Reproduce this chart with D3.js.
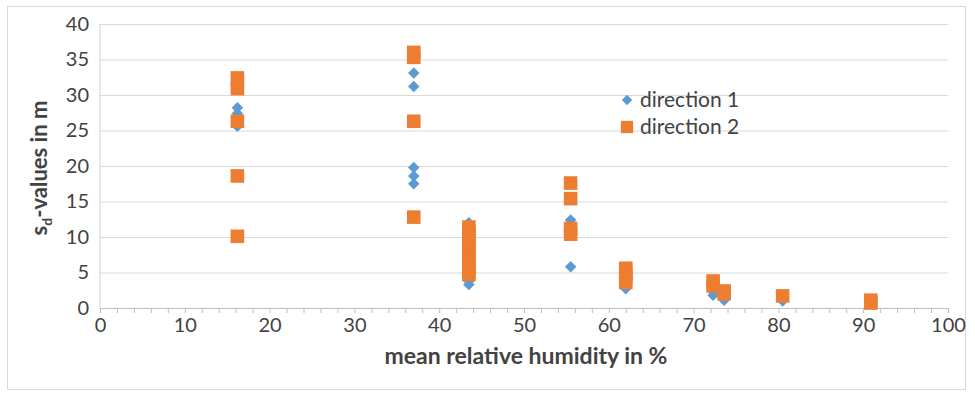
<!DOCTYPE html>
<html>
<head>
<meta charset="utf-8">
<script src="https://cdn.jsdelivr.net/npm/d3@7"></script>
<style>
  html, body { margin: 0; padding: 0; background: #fff; }
  svg { display: block; }
  text { font-family: Lato, "Open Sans", sans-serif; }
</style>
</head>
<body>
<svg id="chart" width="975" height="394"></svg>
<script>
// Mean relative humidity (%) per measurement group, and s_d-values (m)
const dir1X = [16.2, 16.2, 16.2, 16.2,
               37.0, 37.0, 37.0, 37.0, 37.0,
               43.5, 43.5, 43.5, 43.5, 43.5, 43.5, 43.5, 43.5, 43.5,
               55.5, 55.5,
               62.0, 62.0, 62.0,
               72.3, 72.3,
               73.6, 73.6,
               80.5,
               90.9];
const dir1Y = [28.2, 27.4, 26.0, 25.6,
               33.1, 31.2, 19.8, 18.6, 17.5,
               12.0, 11.0, 9.5, 8.0, 6.5, 5.2, 4.4, 3.8, 3.3,
               12.4, 5.8,
               4.5, 3.6, 2.7,
               2.4, 1.8,
               1.6, 1.1,
               1.0,
               0.7];

const dir2X = [16.2, 16.2, 16.2, 16.2, 16.2,
               37.0, 37.0, 37.0, 37.0,
               43.5, 43.5, 43.5, 43.5, 43.5, 43.5, 43.5, 43.5, 43.5, 43.5, 43.5,
               55.5, 55.5, 55.5, 55.5,
               62.0, 62.0, 62.0, 62.0,
               72.3, 72.3,
               73.6, 73.6,
               80.5,
               90.9, 90.9];
const dir2Y = [32.4, 30.9, 26.3, 18.6, 10.1,
               36.0, 35.3, 26.3, 12.8,
               11.4, 10.7, 10.0, 9.3, 8.6, 7.9, 7.2, 6.5, 5.8, 5.2, 4.7,
               17.6, 15.4, 11.2, 10.4,
               5.6, 4.9, 4.2, 3.6,
               3.8, 3.1,
               2.4, 2.0,
               1.7,
               1.1, 0.7];

const xTicks = [0, 10, 20, 30, 40, 50, 60, 70, 80, 90, 100];
const yTicks = [0, 5, 10, 15, 20, 25, 30, 35, 40];
const seriesNames = ["direction 1", "direction 2"];

const svg = d3.select("#chart");
const plot = { left: 100, right: 948, top: 24, bottom: 308 };

const x = d3.scaleLinear().domain([0, 100]).range([plot.left, plot.right]);
const y = d3.scaleLinear().domain([0, 40]).range([plot.bottom, plot.top]);

const blue = "#5B9BD5", orange = "#ED7D31";
const textCol = "#424242", gridCol = "#d9d9d9";

// chart frame
svg.append("rect")
  .attr("x", 7.5).attr("y", 6.5).attr("width", 958).attr("height", 383)
  .attr("fill", "#fff").attr("stroke", "#d9d9d9").attr("stroke-width", 1);

// horizontal gridlines with y tick labels
const yAxis = d3.axisLeft(y).tickValues(yTicks).tickSize(-(plot.right - plot.left)).tickPadding(11);
const gy = svg.append("g").attr("transform", `translate(${plot.left},0)`).call(yAxis);
gy.select(".domain").remove();
gy.selectAll(".tick line").attr("stroke", gridCol).attr("stroke-width", 1.2);
gy.selectAll(".tick text").attr("fill", textCol).style("font-size", "20px");

// x axis with minor ticks every 2 units
const minorTicks = d3.range(0, 101, 2);
const xAxis = d3.axisBottom(x).tickValues(minorTicks).tickSize(5)
  .tickFormat(d => xTicks.includes(d) ? d : "").tickPadding(5);
const gx = svg.append("g").attr("transform", `translate(0,${plot.bottom})`).call(xAxis);
gx.select(".domain").attr("stroke", "#bfbfbf").attr("stroke-width", 1.2);
gx.selectAll(".tick line").attr("stroke", "#bfbfbf");
gx.selectAll(".tick text").attr("fill", textCol).style("font-size", "20px");

// y axis line
svg.append("line")
  .attr("x1", plot.left).attr("x2", plot.left)
  .attr("y1", plot.top).attr("y2", plot.bottom)
  .attr("stroke", gridCol).attr("stroke-width", 1.2);

// direction 1: diamonds
const diamond = d3.symbol().type(d3.symbolDiamond2).size(85);
svg.append("g").selectAll("path")
  .data(d3.zip(dir1X, dir1Y))
  .join("path")
  .attr("d", diamond)
  .attr("transform", d => `translate(${x(d[0])},${y(d[1])})`)
  .attr("fill", blue);

// direction 2: squares
const square = d3.symbol().type(d3.symbolSquare).size(185);
svg.append("g").selectAll("path")
  .data(d3.zip(dir2X, dir2Y))
  .join("path")
  .attr("d", square)
  .attr("transform", d => `translate(${x(d[0])},${y(d[1])})`)
  .attr("fill", orange);

// legend
const legend = svg.append("g").attr("transform", "translate(627,100)");
legend.append("path").attr("d", d3.symbol().type(d3.symbolDiamond2).size(70)).attr("fill", blue);
legend.append("text").attr("x", 13).attr("y", 0).attr("dy", "0.35em")
  .attr("fill", textCol).style("font-size", "21px").text(seriesNames[0]);
legend.append("path").attr("transform", "translate(0,27)")
  .attr("d", d3.symbol().type(d3.symbolSquare).size(150)).attr("fill", orange);
legend.append("text").attr("x", 13).attr("y", 27).attr("dy", "0.35em")
  .attr("fill", textCol).style("font-size", "21px").text(seriesNames[1]);

// axis titles
svg.append("text")
  .attr("x", 526).attr("y", 364)
  .attr("text-anchor", "middle").attr("fill", textCol)
  .style("font-size", "23px").style("font-weight", "bold")
  .text("mean relative humidity in %");

const yt = svg.append("text")
  .attr("transform", "translate(47,168) rotate(-90)")
  .attr("text-anchor", "middle").attr("fill", textCol)
  .style("font-size", "22px").style("font-weight", "bold");
yt.append("tspan").text("s");
yt.append("tspan").attr("dy", 5).style("font-size", "14px").text("d");
yt.append("tspan").attr("dy", -5).text("-values in m");
</script>
</body>
</html>
